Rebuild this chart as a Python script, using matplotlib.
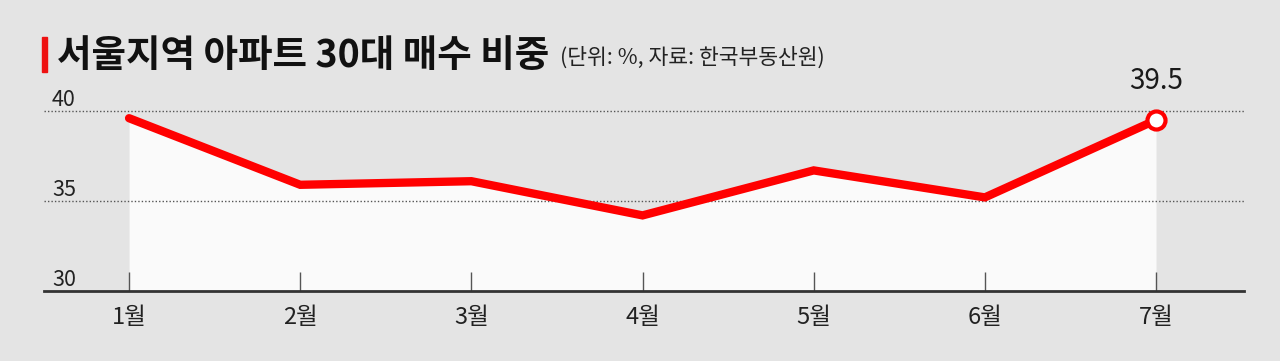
import matplotlib.pyplot as plt
from matplotlib.patches import Rectangle

plt.rcParams['font.family'] = ['Noto Sans CJK KR', 'DejaVu Sans']

months = ['1월', '2월', '3월', '4월', '5월', '6월', '7월']
share = [39.6, 35.9, 36.1, 34.2, 36.7, 35.2, 39.5]
yticks = [30, 35, 40]

W, H = 1280, 361
fig = plt.figure(figsize=(W / 100, H / 100), dpi=100)
fig.patch.set_facecolor('#e4e4e4')

# axes placed in pixel terms: x 44..1244, y 291 (=30) up to 93 (=41)
ax = fig.add_axes([44 / W, (H - 291) / H, 1200 / W, 198 / H])
ax.set_facecolor('none')
x = list(range(1, len(months) + 1))
ax.set_xlim(0.503, 7.514)
ax.set_ylim(30, 41)

# light fill under the line
ax.fill_between(x, share, 30, color='#fafafa', lw=0, zorder=1)

for v in yticks[1:]:
    ax.axhline(v, color='#555555', lw=1, ls=(0, (1, 1.5)), zorder=2)
for v in yticks:
    ax.text(0.0067, v, str(v), transform=ax.get_yaxis_transform(),
            ha='left', va='bottom', fontsize=15.5, color='#222222')

ax.plot(x, share, color='#ff0000', lw=6, solid_joinstyle='miter',
        solid_capstyle='round', zorder=4)
ax.plot(x[-1], share[-1], 'o', ms=13, mfc='white', mec='#ff0000',
        mew=3, zorder=5)
ax.annotate(f'{share[-1]}', (x[-1], share[-1]), xytext=(0, 17),
            textcoords='offset points', ha='center', va='bottom',
            fontsize=20, color='#1a1a1a')

for s in ['top', 'right', 'left']:
    ax.spines[s].set_visible(False)
ax.spines['bottom'].set_color('#333333')
ax.spines['bottom'].set_linewidth(2)
ax.set_yticks([])
ax.set_xticks(x)
ax.set_xticklabels(months, fontsize=17, color='#222222')
ax.tick_params(axis='x', direction='in', length=14, width=1,
               color='#555555', pad=11)

# title
fig.patches.append(Rectangle((42 / W, (H - 72) / H), 5 / W, 35 / H,
                             transform=fig.transFigure, color='#ee1111'))
fig.text(57 / W, (H - 55) / H, '서울지역 아파트 30대 매수 비중',
         fontsize=27, fontweight='heavy', color='#111111', va='center')
fig.text(560 / W, (H - 58) / H, '(단위: %, 자료: 한국부동산원)',
         fontsize=15.5, color='#222222', va='center')

fig.savefig('out.png', dpi=100, facecolor=fig.get_facecolor())
